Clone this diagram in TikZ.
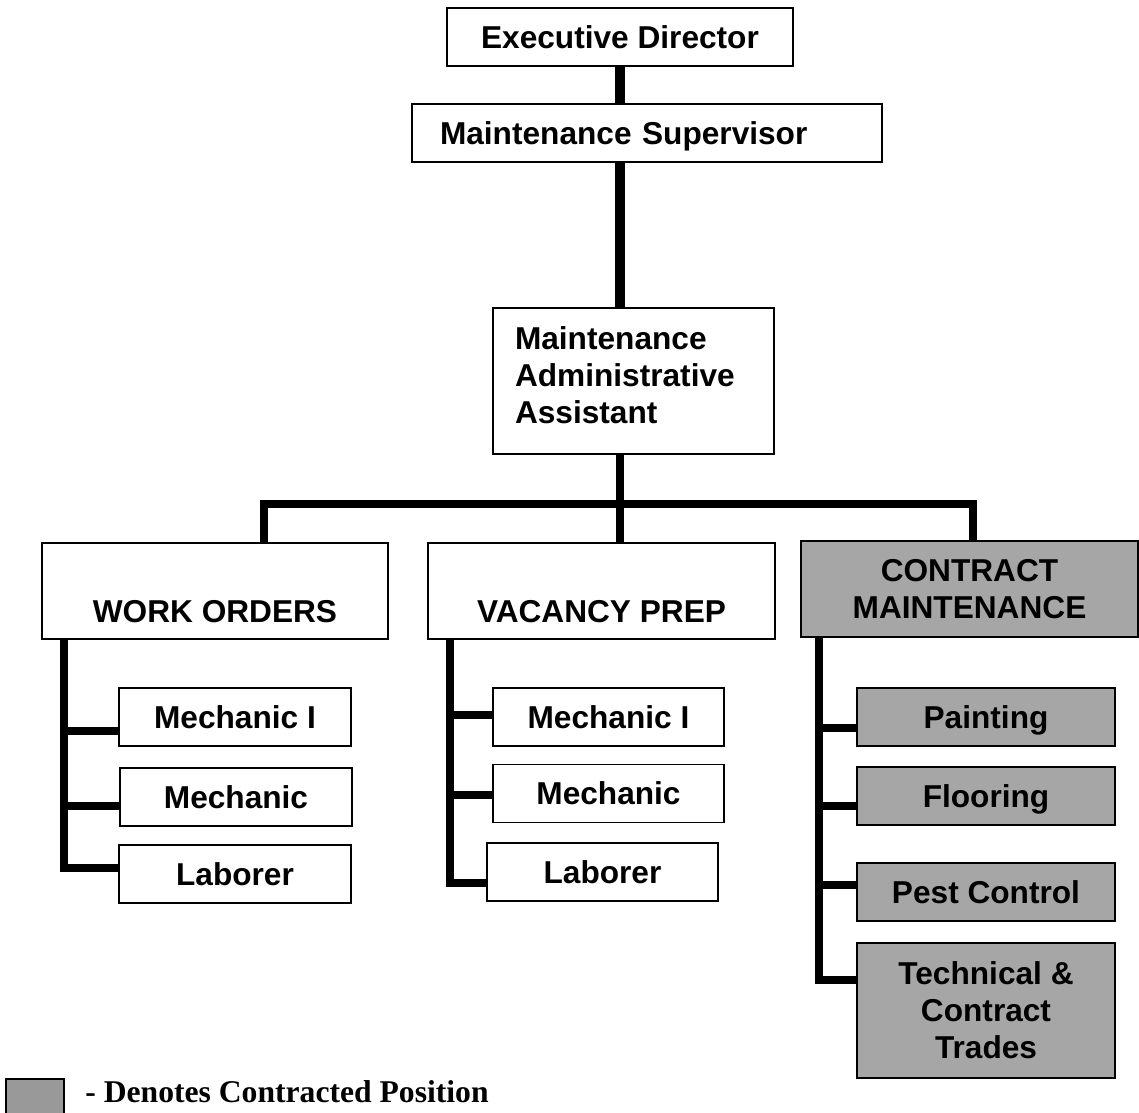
\documentclass[tikz,border=0pt]{standalone}
\usepackage{fontspec}
\setmainfont{Liberation Sans}
\newfontfamily\legendfont{Liberation Serif}
\usetikzlibrary{positioning}
\definecolor{contractgray}{RGB}{166,166,166}
\definecolor{legendgray}{RGB}{153,153,153}
\tikzset{
  post/.style={draw, rectangle, line width=1.1pt, inner sep=0pt, align=center, minimum height=1.16cm, font=\fontsize{18}{21}\selectfont\bfseries},
  oneline/.style={post, text height=13pt, text depth=0pt},
  contracted/.style={post, fill=contractgray},
  conn/.style={line width=4.6pt, line join=miter}
}
\begin{document}
\begin{tikzpicture}
  \useasboundingbox (0,0) rectangle (22.78,-22.24);
  \node[oneline, minimum width=6.92cm] (exec) at (12.40,-0.74) {Executive Director};
  \node[oneline, minimum width=9.40cm, text width=8.28cm, align=left, inner xsep=0.56cm] (sup) at (12.94,-2.66) {Maintenance Supervisor};
  \node[post, minimum height=2.92cm, text width=4.74cm, align=left, inner xsep=0.44cm, text depth=48.8pt] (admin) at (12.67,-7.62) {Maintenance\\Administrative\\Assistant};
  \node[post, minimum width=6.92cm, minimum height=1.92cm] (wo) at (4.30,-11.82) {\strut\\WORK ORDERS};
  \node[post, minimum width=6.94cm, minimum height=1.92cm] (vp) at (12.03,-11.82) {\strut\\VACANCY PREP};
  \node[contracted, minimum width=6.74cm, minimum height=1.92cm] (cm) at (19.39,-11.78) {CONTRACT\\MAINTENANCE};
  % work orders
  \node[oneline, minimum width=4.64cm] (wom1) at (4.70,-14.34) {Mechanic I};
  \node[oneline, minimum width=4.64cm] (wom2) at (4.72,-15.94) {Mechanic};
  \node[oneline, minimum width=4.64cm, below of=wom1, node distance=3.14cm] (wolab) {Laborer};
  % vacancy prep
  \node[oneline, minimum width=4.62cm] (vpm1) at (12.17,-14.34) {Mechanic I};
  \node[oneline, minimum width=4.62cm, below of=vpm1, node distance=1.53cm] (vpm2) {Mechanic};
  \node[oneline, minimum width=4.62cm] (vplab) at (12.05,-17.44) {Laborer};
  % contract maintenance
  \node[oneline, contracted, minimum width=5.16cm] (paint) at (19.72,-14.34) {Painting};
  \node[oneline, contracted, minimum width=5.16cm, below of=paint, node distance=1.58cm] (floor) {Flooring};
  \node[oneline, contracted, minimum width=5.16cm, below of=floor, node distance=1.92cm] (pest) {Pest Control};
  \node[contracted, minimum width=5.16cm, minimum height=2.70cm] (tech) at (19.72,-20.21) {Technical \&\\Contract\\Trades};
  % connectors
  \coordinate (bar) at (12.40,-10.08);
  \coordinate (barL) at (5.28,-10.08);
  \coordinate (barR) at (19.46,-10.08);
  \coordinate (woL) at (1.28,0);
  \coordinate (vpL) at (9.00,0);
  \coordinate (cmL) at (16.38,0);
  \draw[conn, line width=6pt] (exec.south) -- (exec.south |- sup.north);
  \draw[conn, line width=6pt] (exec.south |- sup.south) -- (exec.south |- admin.north);
  \draw[conn] (bar |- admin.south) -- (bar |- vp.north);
  \draw[conn] (barL |- wo.north) -- (barL) -- (barR) -- (barR |- cm.north);
  \draw[conn] (woL |- wo.south) |- ([yshift=0.12cm]wolab.west);
  \foreach \n/\dy in {wom1/-0.28, wom2/-0.18}
    \draw[conn] ([yshift=\dy cm]\n.west) -- ++(-1.12,0);
  \draw[conn] (vpL |- vp.south) |- ([yshift=-0.22cm]vplab.west);
  \foreach \n/\dy in {vpm1/0.04, vpm2/-0.03}
    \draw[conn] ([yshift=\dy cm]\n.west) -- ++(-0.86,0);
  \draw[conn] (cmL |- cm.south) |- ([yshift=0.61cm]tech.west);
  \foreach \n/\dy in {paint/-0.22, floor/-0.20, pest/0.14}
    \draw[conn] ([yshift=\dy cm]\n.west) -- ++(-0.76,0);
  % legend
  \node[draw, line width=1.1pt, fill=legendgray, inner sep=0pt, minimum width=1.16cm, minimum height=0.74cm, anchor=north west] (key) at (0.10,-21.56) {};
  \node[anchor=base west, inner sep=0pt, font=\legendfont\fontsize{18}{21}\selectfont\bfseries] (keytext) at (1.70,-22.04) {- Denotes Contracted Position};
\end{tikzpicture}
\end{document}
